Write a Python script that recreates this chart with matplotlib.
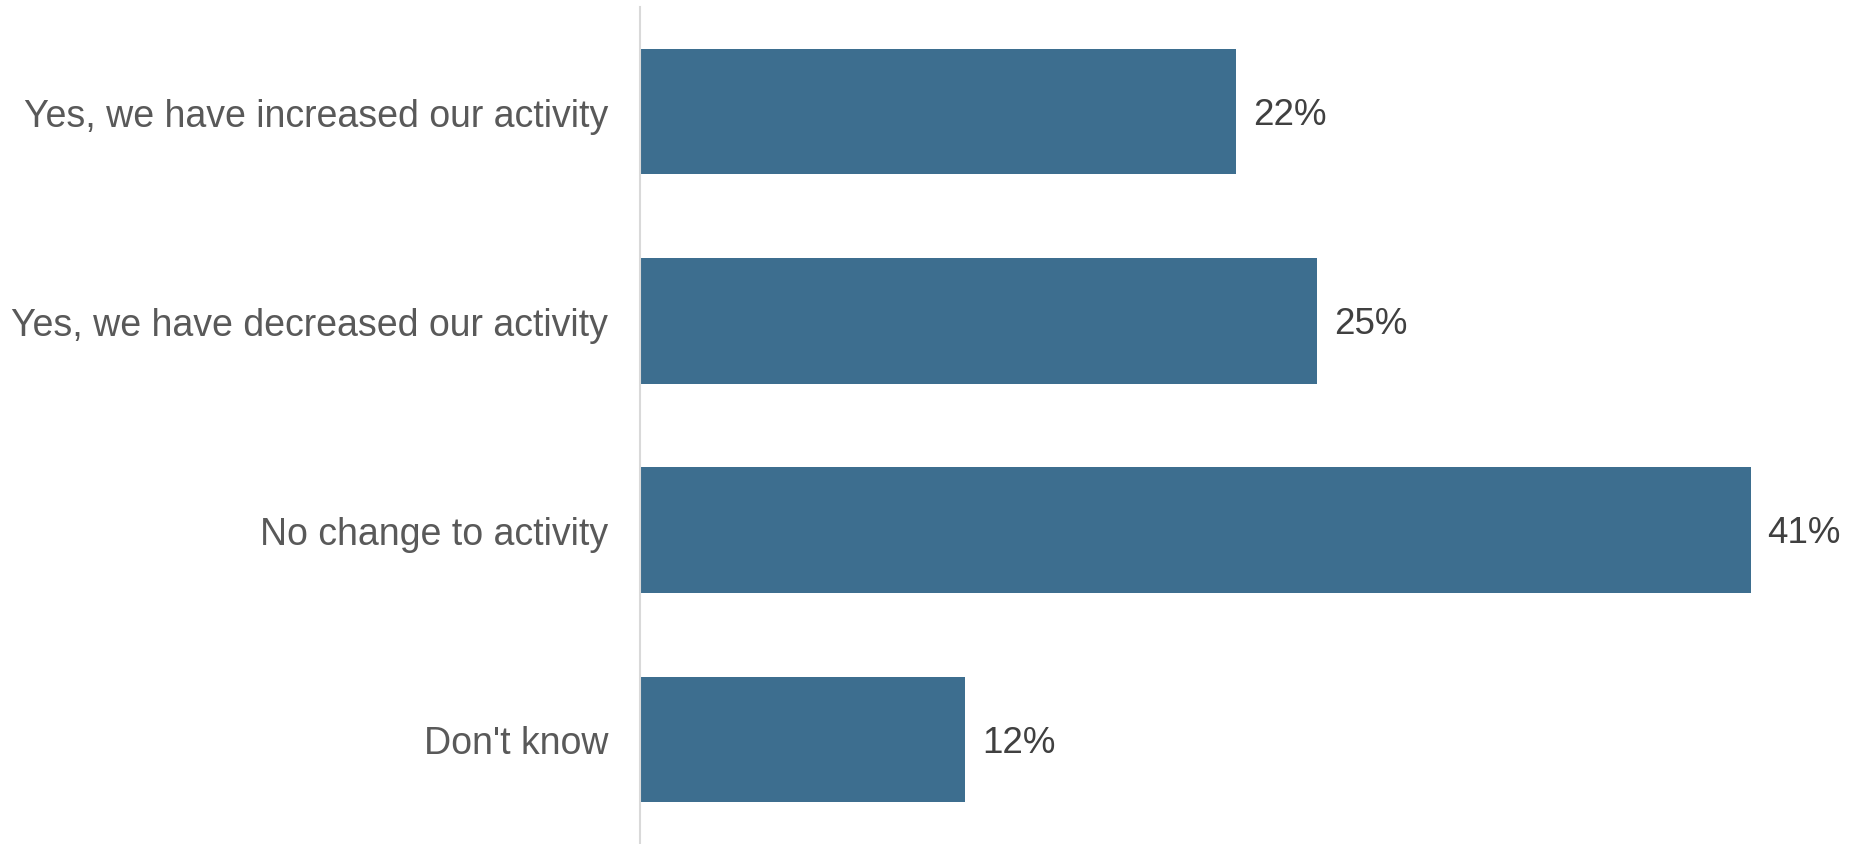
import matplotlib.pyplot as plt

# survey answers, top to bottom
categories = [
    "Yes, we have increased our activity",
    "Yes, we have decreased our activity",
    "No change to activity",
    "Don't know",
]
values = [22, 25, 41, 12]

plt.rcParams['font.family'] = ['Liberation Sans', 'DejaVu Sans']

fig = plt.figure(figsize=(18.7, 8.45), dpi=100)
ax = fig.add_axes([640 / 1870, 0.0, 1 - 640 / 1870, 837 / 845])

ypos = list(range(len(categories)))
bars = ax.barh(ypos, values, height=0.6, color='#3d6e8f')

ax.set_xlim(0, 45.4)
ax.set_ylim(3.5, -0.5)

ax.set_yticks(ypos)
ax.set_yticklabels(categories, fontsize=27, color='#595959')
ax.tick_params(axis='y', length=0, pad=23)
ax.set_xticks([])

for s in ['top', 'right', 'bottom']:
    ax.spines[s].set_visible(False)
ax.spines['left'].set_color('#d9d9d9')
ax.spines['left'].set_linewidth(1.5)

for b, v in zip(bars, values):
    ax.annotate(f"{v}%", (b.get_width(), b.get_y() + b.get_height() / 2),
                xytext=(12, -2), textcoords='offset points',
                va='center', ha='left', fontsize=26.5, color='#404040')

fig.savefig('out.png', dpi=100)
